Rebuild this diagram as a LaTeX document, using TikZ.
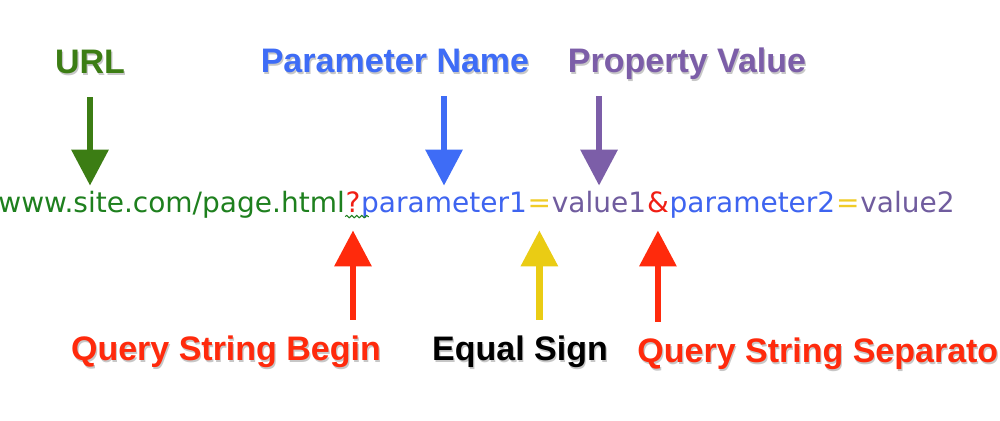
\documentclass[tikz,border=0pt]{standalone}
\usepackage{fontspec}
\setmainfont{Liberation Sans}
\newfontfamily\urlfont{DejaVu Sans}
\usepackage{tikz}
\usetikzlibrary{arrows.meta, positioning, decorations.pathmorphing}

\definecolor{lblgreen}{RGB}{60,125,20}
\definecolor{lblblue}{RGB}{62,108,246}
\definecolor{lblpurple}{RGB}{124,94,168}
\definecolor{lblred}{RGB}{255,42,12}
\definecolor{lblyellow}{RGB}{234,204,20}
\definecolor{txtgreen}{RGB}{30,128,30}
\definecolor{txtblue}{RGB}{62,100,240}
\definecolor{txtpurple}{RGB}{112,92,158}
\definecolor{txtred}{RGB}{240,30,20}
\definecolor{txtyellow}{RGB}{240,204,40}

% label text with a soft drop shadow
\newcommand{\shadowlbl}[1]{\makebox[0pt][l]{\raisebox{-1pt}{\hspace{0.6pt}\textcolor{black!22}{#1}}}#1}

\begin{document}
\begin{tikzpicture}[x=0.5pt,y=-0.5pt,
    lbl/.style={font=\bfseries\fontsize{17}{20}\selectfont, inner sep=0pt,
        text height=12.5pt, text depth=3.5pt, anchor=base},
    part/.style={font=\urlfont\fontsize{14}{16}\selectfont, inner sep=0pt,
        text height=10.5pt, text depth=3pt},
    downarrow/.style={line width=3.2pt, -{Triangle[width=18pt,length=18pt]},
        shorten <=8.5pt, shorten >=2.5pt},
    uparrow/.style={line width=3.2pt, -{Triangle[width=18pt,length=18pt]},
        shorten <=7.5pt, shorten >=6pt}]

    \clip (0,0) rectangle (1000,420);
    \fill[white] (0,0) rectangle (1000,420);

    % the url, piece by piece
    \node[part, anchor=base west, text=txtgreen] (host) at (-2,212) {www.site.com/page.html};
    \node[part, right=0pt of host, text=txtred] (qmark) {?};
    \node[part, right=0pt of qmark, text=txtblue] (pname1) {parameter1};
    \node[part, right=0pt of pname1, text=txtyellow] (eq1) {=};
    \node[part, right=0pt of eq1, text=txtpurple] (pval1) {value1};
    \node[part, right=0pt of pval1, text=txtred] (amp) {\&};
    \node[part, right=0pt of amp, text=txtblue] (pname2) {parameter2};
    \node[part, right=0pt of pname2, text=txtyellow] (eq2) {=};
    \node[part, right=0pt of eq2, text=txtpurple] (pval2) {value2};

    % spelling squiggle under the question mark
    \draw[txtgreen, line width=0.5pt, decorate,
        decoration={snake, amplitude=0.6pt, segment length=2.5pt}]
        ([yshift=-2.3pt]qmark.base west) -- ([yshift=-2.3pt, xshift=4pt]qmark.base east);

    % labels
    \node[lbl, text=lblgreen] (urllbl) at (90,73) {\shadowlbl{URL}};
    \node[lbl, text=lblblue] (pnamelbl) at (395,72) {\shadowlbl{Parameter Name}};
    \node[lbl, text=lblpurple] (pvallbl) at (687,72) {\shadowlbl{Property Value}};
    \node[lbl, text=lblred] (qbeginlbl) at (226,360) {\shadowlbl{Query String Begin}};
    \node[lbl] (eqlbl) at (520,360) {\shadowlbl{Equal Sign}};
    \node[lbl, anchor=base west, text=lblred] (qseplbl) at (637,362) {\shadowlbl{Query String Separator}};

    % arrows down
    \draw[downarrow, lblgreen] (urllbl.south) -- (urllbl.south |- host.north);
    \draw[downarrow, lblblue] (pname1.north |- pnamelbl.south) -- (pname1.north);
    \draw[downarrow, lblpurple] (pval1.north |- pvallbl.south) -- (pval1.north);

    % arrows up
    \draw[uparrow, lblred] (qmark.south |- qbeginlbl.north) -- (qmark.south);
    \draw[uparrow, lblyellow] (eq1.south |- eqlbl.north) -- (eq1.south);
    \draw[uparrow, lblred] (amp.south |- qseplbl.north) -- (amp.south);
\end{tikzpicture}
\end{document}
